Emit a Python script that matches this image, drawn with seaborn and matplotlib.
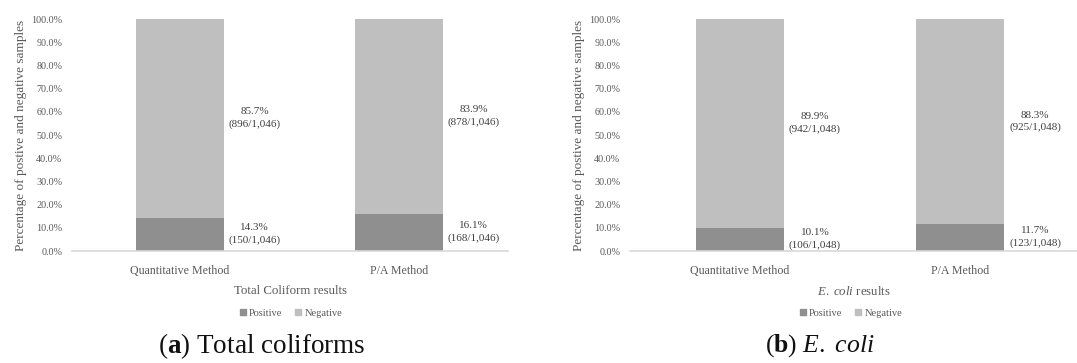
import matplotlib
matplotlib.use("Agg")
import matplotlib.pyplot as plt
import seaborn as sns
import pandas as pd
from matplotlib.patches import Patch
from matplotlib.ticker import FuncFormatter

methods = ["Quantitative Method", "P/A Method"]
tc_positive = [14.3, 16.1]
tc_negative = [85.7, 83.9]
tc_pos_counts = ["150/1,046", "168/1,046"]
tc_neg_counts = ["896/1,046", "878/1,046"]
ec_positive = [10.1, 11.7]
ec_negative = [89.9, 88.3]
ec_pos_counts = ["106/1,048", "123/1,048"]
ec_neg_counts = ["942/1,048", "925/1,048"]
yticks = [0, 10, 20, 30, 40, 50, 60, 70, 80, 90, 100]

sns.set_theme(style="white")
plt.rcParams["font.family"] = ["Liberation Serif", "DejaVu Serif"]
plt.rcParams["mathtext.fontset"] = "custom"
plt.rcParams["mathtext.rm"] = "Liberation Serif"
plt.rcParams["mathtext.it"] = "Liberation Serif:italic"
plt.rcParams["mathtext.bf"] = "Liberation Serif:bold"

DARK = "#8f8f8f"
LIGHT = "#bfbfbf"
TICK = "#595959"
TXT = "#404040"

fig = plt.figure(figsize=(10.77, 3.63), dpi=100)

def panel(rect, pos, neg, pos_c, neg_c, xlabel, xlim):
    ax = fig.add_axes(rect)
    df = pd.DataFrame({"method": methods, "pos": pos, "neg": neg})
    df["total"] = df["pos"] + df["neg"]
    sns.barplot(data=df, x="method", y="total", order=methods, color=LIGHT,
                width=0.4, saturation=1, ax=ax, linewidth=0)
    sns.barplot(data=df, x="method", y="pos", order=methods, color=DARK,
                width=0.4, saturation=1, ax=ax, linewidth=0)
    ax.set_ylim(0, 100)
    ax.set_xlim(*xlim)
    ax.set_yticks(yticks)
    ax.yaxis.set_major_formatter(FuncFormatter(lambda v, p: f"{v:.1f}%"))
    ax.tick_params(axis="y", labelsize=7.3, colors=TICK, length=0, pad=7)
    ax.tick_params(axis="x", labelsize=8.6, colors=TICK, length=0, pad=10)
    for s in ["left", "right", "top"]:
        ax.spines[s].set_visible(False)
    ax.spines["bottom"].set_color("#d9d9d9")
    ax.spines["bottom"].set_linewidth(1.2)
    ax.set_ylabel("Percentage of postive and negative samples", fontsize=9.5,
                  color=TICK, labelpad=3)
    ax.set_xlabel(xlabel, fontsize=9.3, color=TICK, labelpad=6)
    for i in range(len(methods)):
        ax.text(i + 0.34, pos[i] / 2, f"{pos[i]:.1f}%\n({pos_c[i]})",
                ha="center", va="center", fontsize=8, color=TXT,
                linespacing=1.45)
        ax.text(i + 0.34, pos[i] + neg[i] / 2, f"{neg[i]:.1f}%\n({neg_c[i]})",
                ha="center", va="center", fontsize=8, color=TXT,
                linespacing=1.45)
    return ax

ax1 = panel([0.0669, 0.3085, 0.405, 0.639], tc_positive, tc_negative,
            tc_pos_counts, tc_neg_counts, "Total Coliform results", (-0.493, 1.498))
ax2 = panel([0.585, 0.3085, 0.415, 0.639], ec_positive, ec_negative,
            ec_pos_counts, ec_neg_counts, r"$\mathit{E.\ coli}$ results", (-0.5, 1.53))

handles = [Patch(color=DARK, label="Positive"), Patch(color=LIGHT, label="Negative")]
for cx in [291 / 1077, 851 / 1077]:
    fig.legend(handles=handles, loc="center", bbox_to_anchor=(cx, 1 - 313 / 363),
               ncol=2, frameon=False, fontsize=7.5, handlelength=0.6,
               handleheight=0.6, handletextpad=0.3, columnspacing=1.2,
               labelcolor=TICK)

fig.text(262 / 1077, 1 - 346 / 363, r"($\mathbf{a}$) Total coliforms", fontsize=19.5,
         color="#111111", ha="center", va="center")
fig.text(820 / 1077, 1 - 346 / 363, r"($\mathbf{b}$) $\mathit{E.\ coli}$", fontsize=18.5,
         color="#111111", ha="center", va="center")

fig.savefig("out.png", dpi=100, facecolor="white")
